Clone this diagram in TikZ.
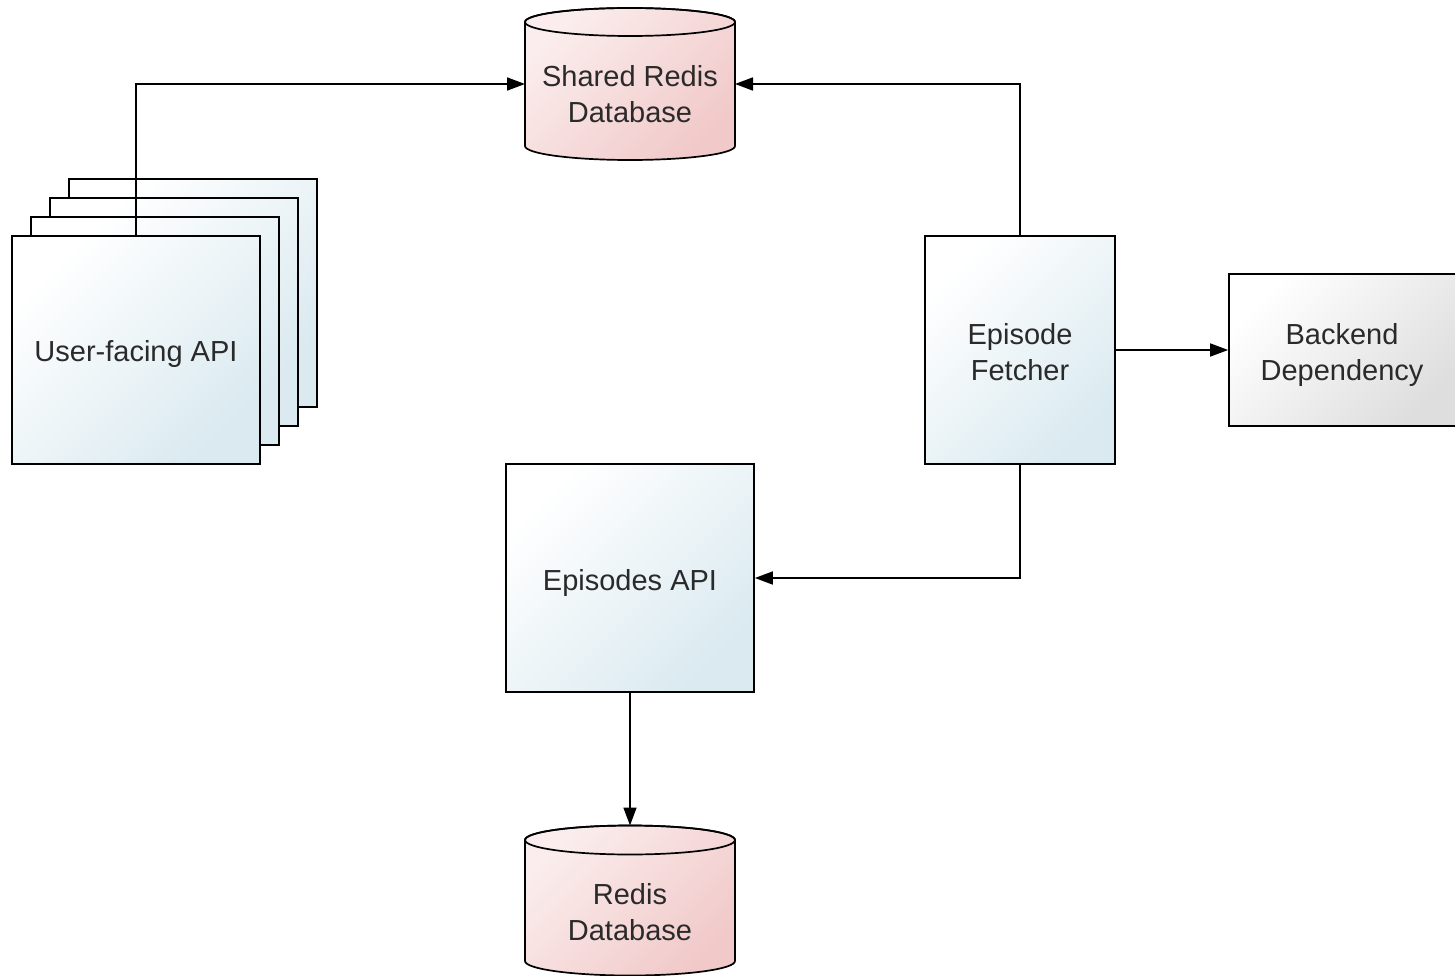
\documentclass[tikz,border=0pt]{standalone}
\usepackage{fontspec}
\setmainfont{Liberation Sans}
\usetikzlibrary{arrows.meta}
\definecolor{bluef}{HTML}{DAEAF0}
\definecolor{pinkf}{HTML}{F1C9C9}
\definecolor{pinkl}{HTML}{FBEDED}
\definecolor{grayf}{HTML}{DEDEDE}
\definecolor{txt}{HTML}{2A2A2A}
\begin{document}
\begin{tikzpicture}[x=1pt,y=1pt,
  lw/.style={line width=1.7pt},
  box/.style={lw,draw=black,top color=white,bottom color=bluef,shading angle=45,inner sep=0pt},
  gbox/.style={lw,draw=black,top color=white,bottom color=grayf,shading angle=45,inner sep=0pt},
  lbl/.style={font=\fontsize{29}{36}\selectfont,text=txt,align=center},
  anchorbox/.style={inner sep=0pt,outer sep=0pt},
  conn/.style={lw,-{Triangle[length=18pt,width=13pt]}},
  plain/.style={lw}]
\useasboundingbox (0,0) rectangle (1455,-976);
% user-facing stack
\node[box,minimum width=248pt,minimum height=228pt] (uf4) at (193,-293) {};
\node[box,minimum width=248pt,minimum height=228pt] (uf3) at (174,-312) {};
\node[box,minimum width=248pt,minimum height=228pt] (uf2) at (155,-331) {};
\node[box,minimum width=248pt,minimum height=228pt] (uf) at (136,-350) {};
\node[lbl] (uft) at (136,-354) {User-facing API};
% shared redis cylinder
\node[anchorbox,minimum width=210pt,minimum height=152pt] (srd) at (630,-84) {};
\path[lw,draw=black,top color=pinkl,bottom color=pinkf,shading angle=45]
  (525,-22) -- (525,-146) arc[start angle=180,end angle=360,x radius=105pt,y radius=14pt]
  -- (735,-22) arc[start angle=0,end angle=180,x radius=105pt,y radius=14pt] -- cycle;
\draw[lw] (630,-22) ellipse[x radius=105pt,y radius=14pt];
\node[lbl] (srdt) at (630,-94) {Shared Redis\\Database};
% redis cylinder
\node[anchorbox,minimum width=210pt,minimum height=150pt] (rdb) at (630,-900.5) {};
\path[lw,draw=black,top color=pinkl,bottom color=pinkf,shading angle=45]
  (525,-840) -- (525,-961) arc[start angle=180,end angle=360,x radius=105pt,y radius=14.5pt]
  -- (735,-840) arc[start angle=0,end angle=180,x radius=105pt,y radius=14.5pt] -- cycle;
\draw[lw] (630,-840) ellipse[x radius=105pt,y radius=14.5pt];
\node[lbl] (rdbt) at (630,-912) {Redis\\Database};
% episode fetcher
\node[box,minimum width=190pt,minimum height=228pt] (ef) at (1020,-350) {};
\node[lbl] (eft) at (1020,-352) {Episode\\Fetcher};
% backend
\node[gbox,minimum width=228pt,minimum height=152pt] (bd) at (1343,-350) {};
\node[lbl] (bdt) at (1342,-355) {Backend\\Dependency};
% episodes api
\node[box,minimum width=248pt,minimum height=228pt] (ea) at (630,-578) {};
\node[lbl] (eat) at (630,-583) {Episodes API};
% connectors
\draw[conn] (uf.north) |- (srd.west);
\draw[conn] (ef.north) |- (srd.east);
\draw[conn] (ef.east) -- (bd.west);
\draw[conn] (ef.south) |- (ea.east);
\draw[conn] (ea.south) -- (rdb.north);
\end{tikzpicture}
\end{document}
